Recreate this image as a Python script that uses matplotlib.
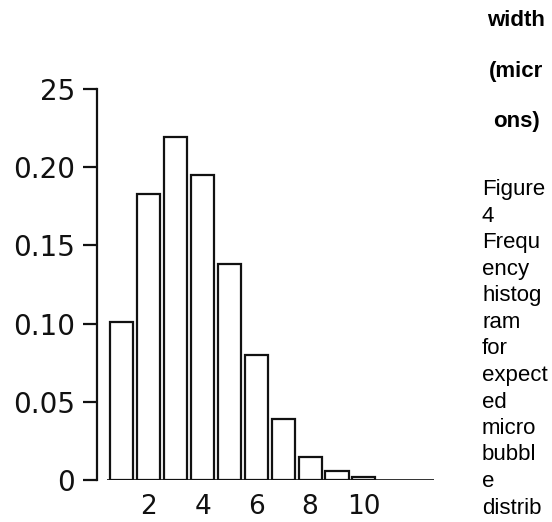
import matplotlib
matplotlib.use("Agg")
import matplotlib.pyplot as plt

# bubble width bins (microns) and relative frequency
widths = [1, 2, 3, 4, 5, 6, 7, 8, 9, 10]
freq = [0.101, 0.183, 0.219, 0.195, 0.138, 0.080, 0.039, 0.015, 0.006, 0.002]
xticks = [2, 4, 6, 8, 10]
xlabels = ["2", "4", "6", "8", "10"]
yticks = [0, 0.05, 0.10, 0.15, 0.20, 0.25]
ylabels = ["0", "0.05", "0.10", "0.15", "0.20", "25"]

side_bold = ["width", "(micr", "ons)"]
side_text = ["Figure", "4", "Frequ", "ency", "histog", "ram", "for", "expect",
             "ed", "micro", "bubbl", "e", "distrib"]

W, H = 552, 522
fig = plt.figure(figsize=(W / 100, H / 100), dpi=100)
ax = fig.add_axes([97 / W, (H - 480) / H, (440 - 97) / W, (480 - 89) / H])

ax.bar(widths, freq, width=0.86, facecolor="white", edgecolor="#111111",
       linewidth=1.6, zorder=3)
ax.hlines(0, 0.45, 12.6, color="#222222", linewidth=1.3, zorder=2)

ax.set_xlim(0.074, 12.83)
ax.set_ylim(0, 0.25)
for s in ["top", "right", "bottom"]:
    ax.spines[s].set_visible(False)
ax.spines["left"].set_linewidth(1.6)
ax.spines["left"].set_color("#111111")

ax.set_yticks(yticks)
ax.set_yticklabels(ylabels, fontsize=20, color="#111111")
ax.tick_params(axis="y", length=10, width=1.6, pad=6, color="#111111")
ax.set_xticks(xticks)
ax.set_xticklabels(xlabels, fontsize=19, color="#111111")
ax.tick_params(axis="x", length=0, pad=10)

# caption column on the right
for i, t in enumerate(side_bold):
    fig.text(516 / W, 1 - (21 + i * 50) / H, t, fontsize=16, fontweight="bold",
             family="Liberation Sans", ha="center", va="center")
for i, t in enumerate(side_text):
    fig.text(482 / W, 1 - (190 + i * 26.5) / H, t, fontsize=16,
             family="Liberation Sans", ha="left", va="center")

fig.savefig("out.png", dpi=100)
